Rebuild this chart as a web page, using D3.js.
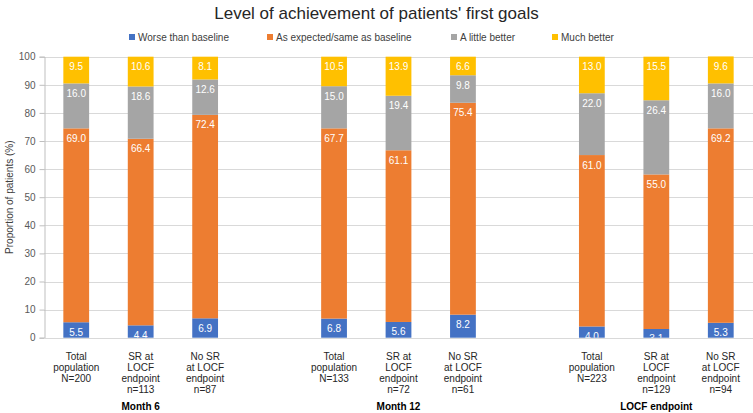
<!DOCTYPE html>
<html>
<head>
<meta charset="utf-8">
<script src="https://cdn.jsdelivr.net/npm/d3@7"></script>
<style>
  html, body { margin: 0; padding: 0; background: #fff; }
  svg { display: block; font-family: "Liberation Sans", Arial, sans-serif; }
</style>
</head>
<body>
<svg id="chart" width="753" height="413"></svg>
<script>
// ---------------- data ----------------
const categoryKeys = ["m6_total", "m6_sr", "m6_nosr", "gap1", "m12_total", "m12_sr", "m12_nosr", "gap2", "locf_total", "locf_sr", "locf_nosr"];
const barKeys = ["m6_total", "m6_sr", "m6_nosr", "m12_total", "m12_sr", "m12_nosr", "locf_total", "locf_sr", "locf_nosr"];
const categoryLabels = [
  ["Total", "population", "N=200"],
  ["SR at", "LOCF", "endpoint", "n=113"],
  ["No SR", "at LOCF", "endpoint", "n=87"],
  ["Total", "population", "N=133"],
  ["SR at", "LOCF", "endpoint", "n=72"],
  ["No SR", "at LOCF", "endpoint", "n=61"],
  ["Total", "population", "N=223"],
  ["SR at", "LOCF", "endpoint", "n=129"],
  ["No SR", "at LOCF", "endpoint", "n=94"]
];
const groupLabels = ["Month 6", "Month 12", "LOCF endpoint"];
const groupCenterBars = ["m6_sr", "m12_sr", "locf_sr"];

const seriesNames = ["Worse than baseline", "As expected/same as baseline", "A little better", "Much better"];
const worse        = [5.5, 4.4, 6.9, 6.8, 5.6, 8.2, 4.0, 3.1, 5.3];
const asExpected   = [69.0, 66.4, 72.4, 67.7, 61.1, 75.4, 61.0, 55.0, 69.2];
const littleBetter = [16.0, 18.6, 12.6, 15.0, 19.4, 9.8, 22.0, 26.4, 16.0];
const muchBetter   = [9.5, 10.6, 8.1, 10.5, 13.9, 6.6, 13.0, 15.5, 9.6];
const seriesColors = ["#4472C4", "#ED7D31", "#A5A5A5", "#FFC000"];
const yTicks = [0, 10, 20, 30, 40, 50, 60, 70, 80, 90, 100];

// ---------------- layout ----------------
const svg = d3.select("#chart");
const margin = {left: 44, right: 0, top: 56.7, bottom: 413 - 337.7};
const W = 753, H = 413;

const x = d3.scaleBand().domain(categoryKeys).range([margin.left, W - margin.right]).paddingInner(0.6).paddingOuter(0.3);
const y = d3.scaleLinear().domain([0, 100]).range([H - margin.bottom, margin.top]);

// table for stacking
const table = barKeys.map((k, i) => ({
  key: k,
  s0: worse[i], s1: asExpected[i], s2: littleBetter[i], s3: muchBetter[i]
}));
const stack = d3.stack().keys(["s0", "s1", "s2", "s3"]);
const stacked = stack(table);

// title
svg.append("text")
  .attr("x", W / 2).attr("y", 19)
  .attr("text-anchor", "middle")
  .attr("font-size", 17)
  .attr("fill", "#262626")
  .text("Level of achievement of patients' first goals");

// legend
const legendItems = [
  {name: seriesNames[0], color: seriesColors[0], x: 129},
  {name: seriesNames[1], color: seriesColors[1], x: 267},
  {name: seriesNames[2], color: seriesColors[2], x: 451},
  {name: seriesNames[3], color: seriesColors[3], x: 552}
];
const lg = svg.append("g");
legendItems.forEach(it => {
  lg.append("rect").attr("x", it.x).attr("y", 34).attr("width", 6).attr("height", 6).attr("fill", it.color);
  lg.append("text").attr("x", it.x + 9).attr("y", 40.5).attr("font-size", 10).attr("fill", "#404040").text(it.name);
});

// gridlines
svg.append("g").selectAll("line").data(yTicks.filter(t => t > 0)).join("line")
  .attr("x1", margin.left).attr("x2", W)
  .attr("y1", d => Math.round(y(d)) + 0.5).attr("y2", d => Math.round(y(d)) + 0.5)
  .attr("stroke", "#d9d9d9").attr("stroke-width", 1);

// y axis
const yAxis = d3.axisLeft(y).tickValues(yTicks).tickSize(5).tickPadding(4).tickFormat(d3.format("d"));
const yg = svg.append("g").attr("transform", `translate(${margin.left + 0.5},0)`).call(yAxis);
yg.select(".domain").attr("stroke", "#bfbfbf");
yg.selectAll(".tick line").attr("stroke", "#bfbfbf");
yg.selectAll(".tick text").attr("font-size", 10).attr("fill", "#595959").attr("font-family", "Liberation Sans, Arial, sans-serif");

// y title
svg.append("text")
  .attr("transform", `translate(13,${(y(0) + y(100)) / 2}) rotate(-90)`)
  .attr("text-anchor", "middle")
  .attr("font-size", 10)
  .attr("fill", "#404040")
  .text("Proportion of patients (%)");

// bars
const bars = svg.append("g");
stacked.forEach((layer, li) => {
  bars.append("g").selectAll("rect").data(layer).join("rect")
    .attr("x", d => x(d.data.key))
    .attr("width", x.bandwidth())
    .attr("y", d => y(d[1]))
    .attr("height", d => y(d[0]) - y(d[1]))
    .attr("fill", seriesColors[li]);
});

// value labels
const clip = svg.append("clipPath").attr("id", "plotclip").append("rect")
  .attr("x", margin.left).attr("y", 0).attr("width", W).attr("height", y(0));
const lbl = svg.append("g").attr("clip-path", "url(#plotclip)");
stacked.forEach((layer, li) => {
  lbl.append("g").selectAll("text").data(layer).join("text")
    .attr("x", d => x(d.data.key) + x.bandwidth() / 2)
    .attr("y", d => y(d[1]) + 13.5)
    .attr("text-anchor", "middle")
    .attr("font-size", 10)
    .attr("fill", "#ffffff")
    .text(d => (d[1] - d[0]).toFixed(1));
});

// baseline
svg.append("line")
  .attr("x1", margin.left).attr("x2", W)
  .attr("y1", Math.round(y(0)) + 0.5).attr("y2", Math.round(y(0)) + 0.5)
  .attr("stroke", "#d9d9d9");

// category labels
const cl = svg.append("g");
barKeys.forEach((k, i) => {
  const t = cl.append("text")
    .attr("x", x(k) + x.bandwidth() / 2)
    .attr("y", 359.5)
    .attr("text-anchor", "middle")
    .attr("font-size", 10)
    .attr("fill", "#262626");
  categoryLabels[i].forEach((line, j) => {
    t.append("tspan").attr("x", x(k) + x.bandwidth() / 2).attr("dy", j === 0 ? 0 : 11.3).text(line);
  });
});

// group labels
groupLabels.forEach((g, i) => {
  svg.append("text")
    .attr("x", x(groupCenterBars[i]) + x.bandwidth() / 2)
    .attr("y", 409.5)
    .attr("text-anchor", "middle")
    .attr("font-size", 10)
    .attr("font-weight", "bold")
    .attr("fill", "#000")
    .text(g);
});
</script>
</body>
</html>
